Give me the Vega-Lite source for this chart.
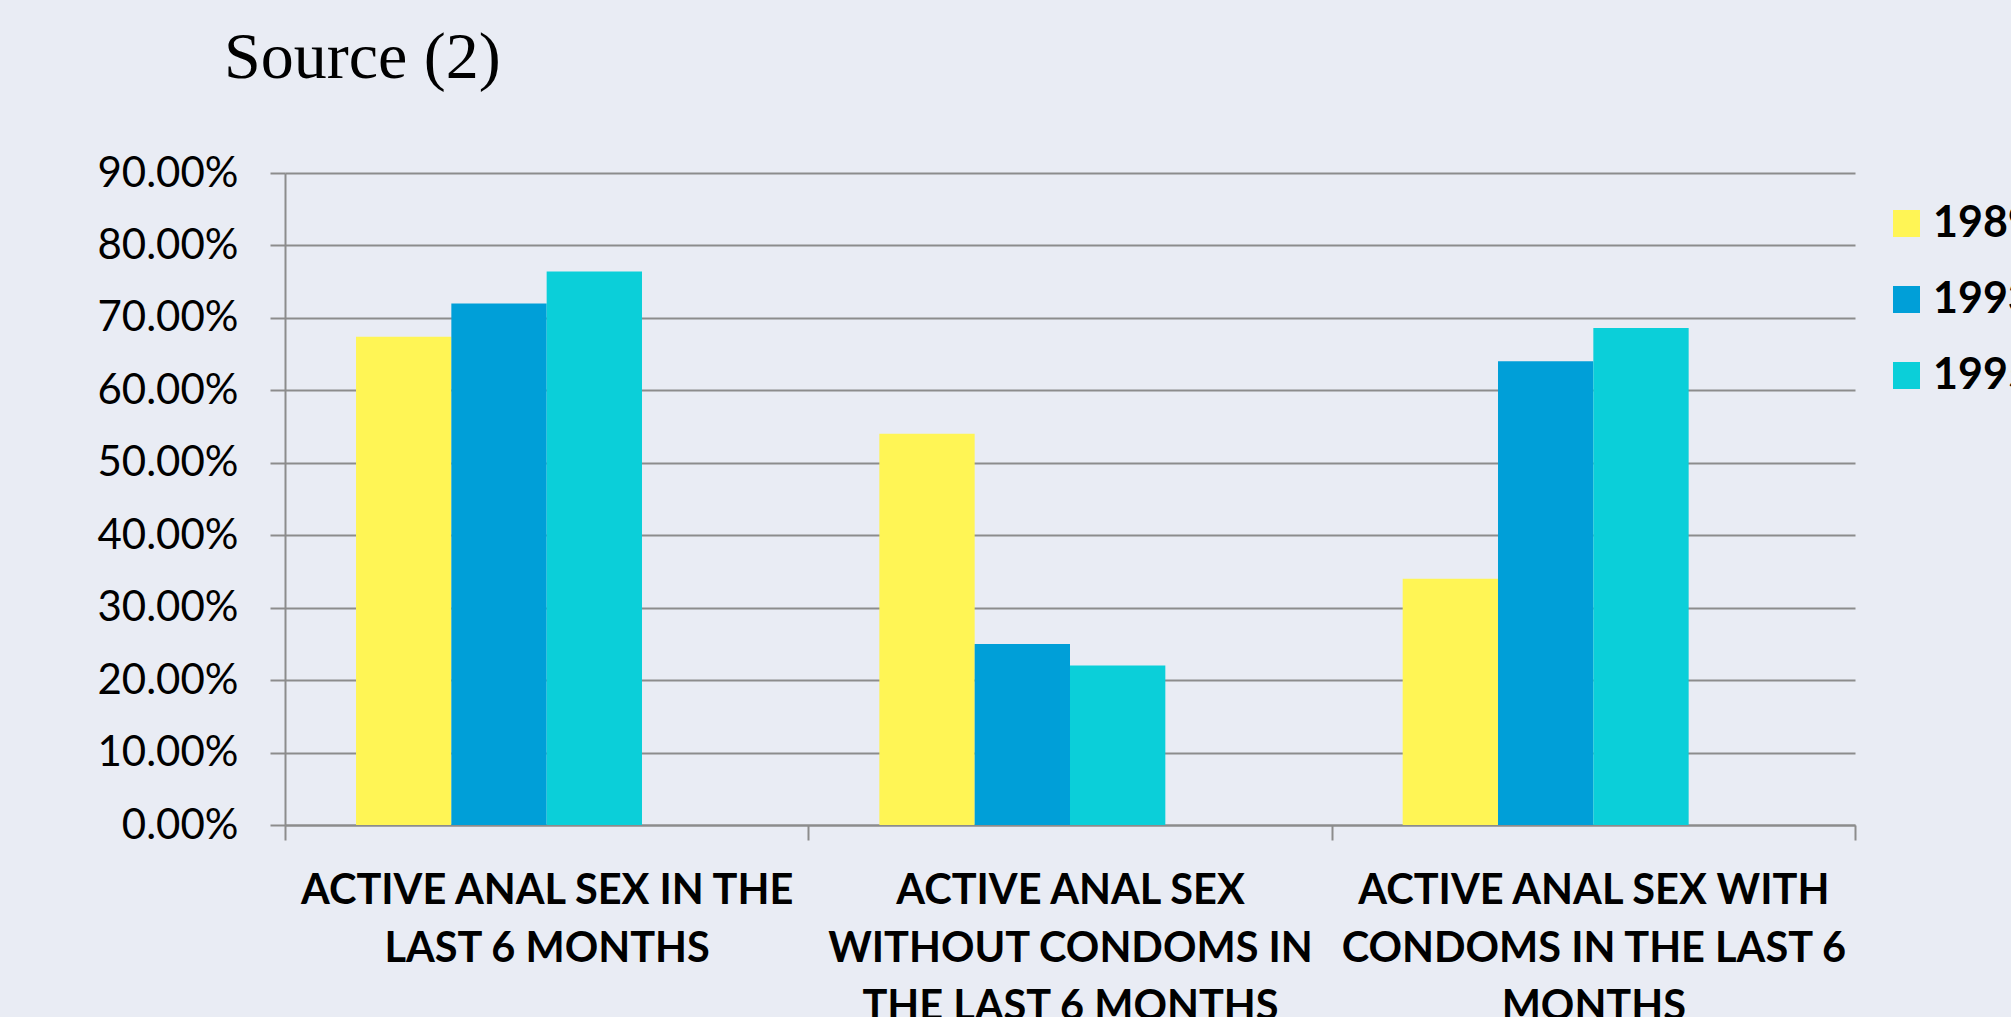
{
  "$schema": "https://vega.github.io/schema/vega-lite/v6.json",
  "width": 1570,
  "height": 652,
  "autosize": {"type": "none"},
  "padding": {"left": 285, "top": 173, "right": 156, "bottom": 192},
  "background": "#E9ECF4",
  "title": {
    "text": "Source (2)",
    "font": "Liberation Serif",
    "fontSize": 66,
    "fontWeight": "normal",
    "color": "#000000",
    "anchor": "start",
    "frame": "group",
    "dx": -61,
    "offset": 60
  },
  "data": {
    "values": [
      {"measure": "ACTIVE ANAL SEX IN THE|LAST 6 MONTHS", "year": "1989", "value": 0.674},
      {"measure": "ACTIVE ANAL SEX IN THE|LAST 6 MONTHS", "year": "1993", "value": 0.72},
      {"measure": "ACTIVE ANAL SEX IN THE|LAST 6 MONTHS", "year": "1995", "value": 0.764},
      {"measure": "ACTIVE ANAL SEX|WITHOUT CONDOMS IN|THE LAST 6 MONTHS", "year": "1989", "value": 0.54},
      {"measure": "ACTIVE ANAL SEX|WITHOUT CONDOMS IN|THE LAST 6 MONTHS", "year": "1993", "value": 0.25},
      {"measure": "ACTIVE ANAL SEX|WITHOUT CONDOMS IN|THE LAST 6 MONTHS", "year": "1995", "value": 0.22},
      {"measure": "ACTIVE ANAL SEX WITH|CONDOMS IN THE LAST 6|MONTHS", "year": "1989", "value": 0.34},
      {"measure": "ACTIVE ANAL SEX WITH|CONDOMS IN THE LAST 6|MONTHS", "year": "1993", "value": 0.64},
      {"measure": "ACTIVE ANAL SEX WITH|CONDOMS IN THE LAST 6|MONTHS", "year": "1995", "value": 0.686}
    ]
  },
  "mark": {"type": "bar"},
  "encoding": {
    "x": {
      "field": "measure",
      "type": "nominal",
      "sort": null,
      "scale": {"paddingInner": 0, "paddingOuter": 0},
      "axis": {
        "title": null,
        "labelAngle": 0,
        "labelExpr": "split(datum.label, '|')",
        "labelFont": "Lato",
        "labelFontWeight": "bold",
        "labelFontSize": 41.5,
        "labelColor": "#000000",
        "labelLineHeight": 58,
        "labelLimit": 0,
        "labelPadding": 30,
        "labelBaseline": "top",
        "tickBand": "extent",
        "tickSize": 15,
        "tickColor": "#8C8C8C",
        "tickWidth": 2,
        "domainColor": "#8C8C8C",
        "domainWidth": 2
      }
    },
    "xOffset": {
      "field": "year",
      "type": "nominal",
      "scale": {"domain": ["1989", "1993", "1995", "(none)"], "paddingInner": 0, "paddingOuter": 0.745}
    },
    "y": {
      "field": "value",
      "type": "quantitative",
      "scale": {"domain": [0, 0.9], "nice": false},
      "axis": {
        "title": null,
        "format": ".2%",
        "values": [0, 0.1, 0.2, 0.3, 0.4, 0.5, 0.6, 0.7, 0.8, 0.9],
        "labelFont": "Lato",
        "labelFontSize": 42,
        "labelColor": "#000000",
        "labelPadding": 32,
        "tickSize": 15,
        "tickColor": "#8C8C8C",
        "tickWidth": 2,
        "gridColor": "#8C8C8C",
        "gridWidth": 2,
        "domainColor": "#8C8C8C",
        "domainWidth": 2
      }
    },
    "color": {
      "field": "year",
      "type": "nominal",
      "scale": {"domain": ["1989", "1993", "1995"], "range": ["#FFF555", "#009FD8", "#0BCFD9"]},
      "legend": {
        "title": null,
        "orient": "none",
        "legendX": 1600,
        "legendY": 29,
        "padding": 0,
        "symbolType": "square",
        "symbolSize": 729,
        "symbolStrokeWidth": 0,
        "symbolOpacity": 1,
        "labelFont": "Lato",
        "labelFontWeight": "bold",
        "labelFontSize": 43,
        "labelColor": "#000000",
        "labelOffset": 5,
        "rowPadding": 32,
        "labelLimit": 0
      }
    }
  },
  "config": {"view": {"stroke": null}}
}
